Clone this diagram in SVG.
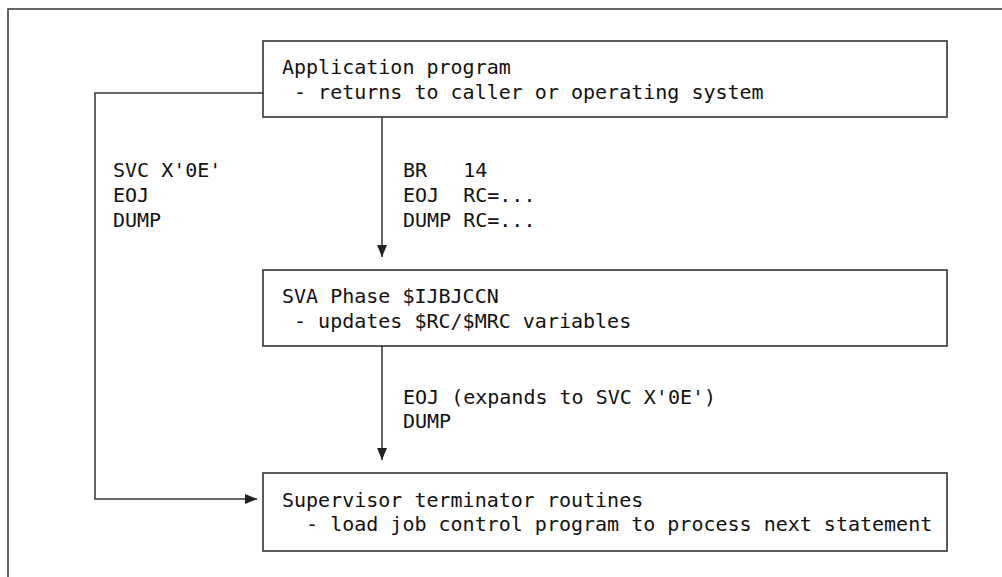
<svg xmlns="http://www.w3.org/2000/svg" width="1002" height="577" viewBox="0 0 1002 577">
<style>
.frame{fill:none;stroke:#333;stroke-width:1.5}
.box{fill:#fff;stroke:#333;stroke-width:1.6}
.conn{fill:none;stroke:#333;stroke-width:1.5}
text{font-family:"DejaVu Sans Mono","Liberation Mono",monospace;font-size:20px;fill:#111;white-space:pre}
</style>
<defs>
<marker id="arr" viewBox="0 0 12 10" refX="12" refY="5" markerWidth="12" markerHeight="10" markerUnits="userSpaceOnUse" orient="auto">
<path d="M0,0 L12,5 L0,10 z" fill="#222"/>
</marker>
</defs>
<rect width="1002" height="577" fill="#fff"/>
<path class="frame" d="M8,577 L8,9 L1002,9"/>
<g id="connectors">
<path class="conn" d="M382,117 L382,257" marker-end="url(#arr)"/>
<path class="conn" d="M382,346 L382,460" marker-end="url(#arr)"/>
<path class="conn" d="M263,93 L95,93 L95,499 L257,499" marker-end="url(#arr)"/>
<text x="113" y="177" xml:space="preserve">SVC X'0E'</text>
<text x="113" y="202">EOJ</text>
<text x="113" y="227">DUMP</text>
<text x="403" y="177" xml:space="preserve">BR   14</text>
<text x="403" y="202" xml:space="preserve">EOJ  RC=...</text>
<text x="403" y="227" xml:space="preserve">DUMP RC=...</text>
<text x="403" y="404" xml:space="preserve">EOJ (expands to SVC X'0E')</text>
<text x="403" y="428">DUMP</text>
</g>
<g id="app">
<rect class="box" x="263" y="41" width="684" height="76"/>
<text x="282" y="74">Application program</text>
<text x="282" y="99" xml:space="preserve"> - returns to caller or operating system</text>
</g>
<g id="sva">
<rect class="box" x="263" y="270" width="684" height="76"/>
<text x="282" y="303">SVA Phase $IJBJCCN</text>
<text x="282" y="328" xml:space="preserve"> - updates $RC/$MRC variables</text>
</g>
<g id="sup">
<rect class="box" x="263" y="473" width="684" height="78"/>
<text x="282" y="507">Supervisor terminator routines</text>
<text x="282" y="531" xml:space="preserve">  - load job control program to process next statement</text>
</g>
</svg>
